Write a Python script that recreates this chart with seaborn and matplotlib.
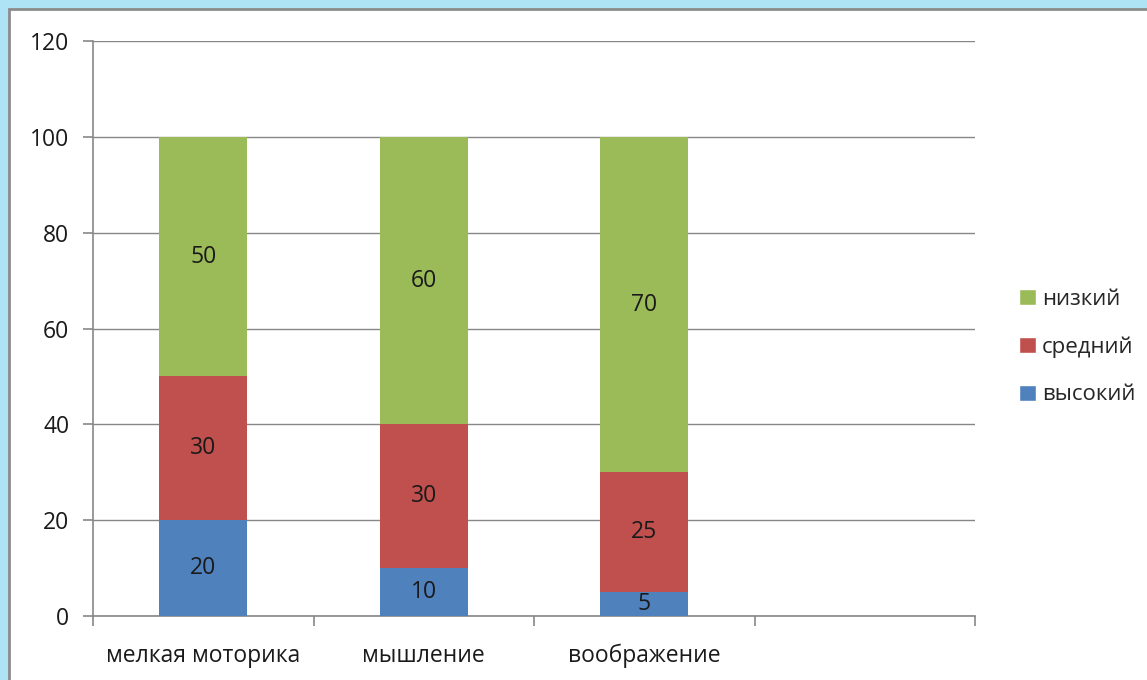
import numpy as np
import pandas as pd
import matplotlib
matplotlib.use("Agg")
import matplotlib.pyplot as plt
from matplotlib.patches import Rectangle
import seaborn as sns

categories = ["мелкая моторика", "мышление", "воображение"]
slots = categories + [" "]  # empty fourth slot as in the original chart
high = [20, 10, 5]      # высокий
mid = [30, 30, 25]      # средний
low = [50, 60, 70]      # низкий
series_names = ["высокий", "средний", "низкий"]
series_colors = ["#4F81BD", "#C0504D", "#9BBB59"]

sns.set_theme(style="white")
plt.rcParams["font.family"] = ["Open Sans", "DejaVu Sans"]

df = pd.DataFrame({"category": categories, "высокий": high, "средний": mid, "низкий": low})
df["top_mid"] = df["высокий"] + df["средний"]
df["top_low"] = df["top_mid"] + df["низкий"]

fig = plt.figure(figsize=(11.47, 6.8), dpi=100)
fig.patch.set_facecolor("#ADE3F5")
# white panel with grey edge (slide frame), running off the right and bottom edges
fig.patches.append(Rectangle((9 / 1147, -0.1), 1.2, 1.1 - 9 / 680, transform=fig.transFigure,
                             facecolor="white", edgecolor="#8C8C8C", linewidth=2, zorder=-10))
ax = fig.add_axes([93 / 1147, 1 - 616 / 680, (975 - 93) / 1147, (616 - 41) / 680])
ax.set_facecolor("white")

# draw tallest stack first so the lower segments sit on top
for col, color in zip(["top_low", "top_mid", "высокий"], series_colors[::-1]):
    sns.barplot(data=df, x="category", y=col, order=slots, color=color,
                width=0.4, saturation=1, linewidth=0, ax=ax, zorder=3)

# segment labels
for i in range(len(categories)):
    bottoms = [0, high[i], high[i] + mid[i]]
    for val, b in zip([high[i], mid[i], low[i]], bottoms):
        ax.text(i, b + val / 2, str(val), ha="center", va="center",
                fontsize=16.5, color="#1a1a1a", zorder=4)

ax.set_xlim(-0.5, 3.5)
ax.set_ylim(0, 120)
ax.set_yticks(np.arange(0, 121, 20))
ax.yaxis.grid(True, color="#878787", linewidth=1)
ax.set_axisbelow(True)
ax.set_xlabel("")
ax.set_ylabel("")
for s in ["top", "right"]:
    ax.spines[s].set_visible(False)
for s in ["left", "bottom"]:
    ax.spines[s].set_color("#878787")
    ax.spines[s].set_linewidth(1.2)

ax.set_xticks(range(len(slots)))
ax.set_xticklabels(slots)
ax.set_xticks(np.arange(-0.5, 4.0, 1.0), minor=True)
ax.tick_params(axis="x", which="major", bottom=True, length=0, labelsize=16.5, pad=20,
               colors="#1a1a1a")
ax.tick_params(axis="x", which="minor", bottom=True, length=7, width=1.2, color="#878787",
               direction="out")
ax.tick_params(axis="y", left=True, length=7, width=1.2, color="#878787", direction="out",
               labelsize=16.5, pad=10, labelcolor="#1a1a1a")

handles = [Rectangle((0, 0), 1, 1, facecolor=c) for c in series_colors[::-1]]
fig.legend(handles, series_names[::-1], loc="center left",
           bbox_to_anchor=(1010 / 1147, 1 - 347 / 680), frameon=False,
           fontsize=16, handlelength=0.75, handleheight=0.75, handletextpad=0.3,
           labelspacing=1.2, borderaxespad=0)

fig.savefig("out.png", dpi=100, facecolor=fig.get_facecolor())
